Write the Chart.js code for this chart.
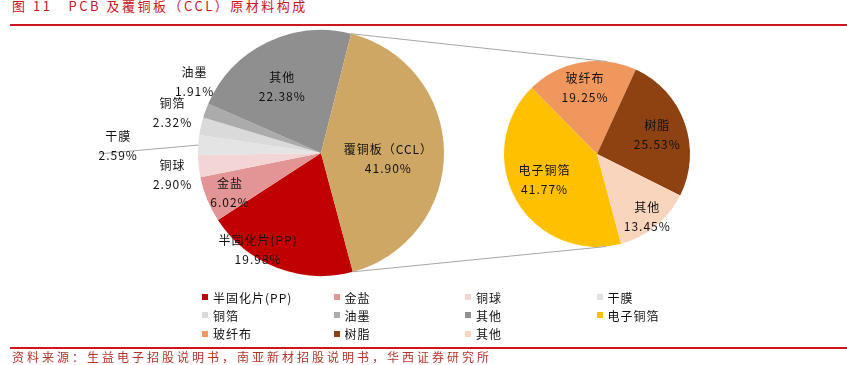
<!DOCTYPE html>
<html><head><meta charset="utf-8">
<script src="https://cdn.jsdelivr.net/npm/chart.js@4.4.0/dist/chart.umd.min.js"></script>
<style>
html,body{margin:0;padding:0;background:#fff;width:847px;height:365px;overflow:hidden;font-family:"Noto Sans CJK SC",sans-serif;}
#title{position:absolute;left:12px;top:-4px;font-size:13px;line-height:20px;color:#C8161D;white-space:pre;letter-spacing:2.5px;}
#topline{position:absolute;left:10px;right:0;top:24px;height:2px;background:#D0161D;}
#botline{position:absolute;left:10px;right:0;top:347px;height:2px;background:#D0161D;}
#source{position:absolute;left:12px;top:349px;font-size:12px;line-height:16px;color:#B5352B;letter-spacing:3px;white-space:pre;}
canvas{position:absolute;left:0;top:0;}
#legend{position:absolute;left:202px;top:288px;display:grid;grid-template-columns:repeat(4,131.5px);grid-auto-rows:18.3px;}
.li{display:flex;align-items:center;font-size:12px;color:#111;letter-spacing:1px;white-space:nowrap;}
.li i{display:inline-block;width:6px;height:6px;margin-right:5px;}
</style></head>
<body>
<div id="title">图 11   PCB 及覆铜板（CCL）原材料构成</div>
<div id="topline"></div>
<canvas id="left" width="847" height="365"></canvas>
<canvas id="right" width="847" height="365"></canvas>
<div id="legend"></div>
<div id="botline"></div>
<div id="source">资料来源：生益电子招股说明书，南亚新材招股说明书，华西证券研究所</div>
<script>
// ---- data ----
const leftCategories = ['半固化片(PP)', '金盐', '铜球', '干膜', '铜箔', '油墨', '其他', '覆铜板（CCL）'];
const leftValues = [19.98, 6.02, 2.90, 2.59, 2.32, 1.91, 22.38, 41.90];
const rightCategories = ['电子铜箔', '玻纤布', '树脂', '其他'];
const rightValues = [41.77, 19.25, 25.53, 13.45];

// ---- styles ----
const leftColors = ['#C00000', '#E39494', '#F3D5D5', '#E4E4E4', '#DADADA', '#ABABAB', '#8F8F8F', '#CEA764'];
const rightColors = ['#FFC000', '#F0975E', '#8E4212', '#F9D5BE'];
// label placement: [angle offset from slice middle (deg), radius factor, leader line]
const leftLabelPlace = [[12, 0.94, 0], [-1.7, 0.81, 0], [-2.3, 1.22, 0], [-1.7, 1.65, 1], [2.5, 1.25, 0], [9.3, 1.18, 0], [-4.4, 0.62, 0], [5.5, 0.55, 0]];
const rightLabelPlace = [[3.2, 0.63, 0], [-0.3, 0.72, 0], [1.7, 0.68, 0], [0.8, 0.87, 0]];
const legendCount = 7; // left items shown in legend (覆铜板 is expanded on the right)

Chart.defaults.font.family = '"Noto Sans CJK SC", sans-serif';

function labelPlugin(cats, vals, place) {
  return {
    id: 'sliceLabels',
    afterDatasetsDraw(chart) {
      const ctx = chart.ctx;
      const meta = chart.getDatasetMeta(0);
      ctx.save();
      ctx.font = '12px "Noto Sans CJK SC", sans-serif';
      ctx.textAlign = 'center';
      ctx.textBaseline = 'middle';
      meta.data.forEach((arc, i) => {
        const p = arc.getProps(['x', 'y', 'startAngle', 'endAngle', 'outerRadius'], true);
        const mid = (p.startAngle + p.endAngle) / 2;
        const a = mid + place[i][0] * Math.PI / 180;
        const r = p.outerRadius * place[i][1];
        const lx = p.x + Math.cos(a) * r;
        const ly = p.y + Math.sin(a) * r;
        const pct = vals[i].toFixed(2) + '%';
        if (place[i][2]) {
          ctx.letterSpacing = '0px';
          const w = Math.min(ctx.measureText(pct).width + pct.length, 44);
          ctx.strokeStyle = '#A6A6A6';
          ctx.lineWidth = 1;
          ctx.beginPath();
          ctx.moveTo(lx - w / 2, ly + 8);
          ctx.lineTo(p.x + Math.cos(mid) * p.outerRadius, p.y + Math.sin(mid) * p.outerRadius);
          ctx.stroke();
        }
        ctx.letterSpacing = '1px';
        ctx.fillStyle = '#111';
        ctx.fillText(cats[i], lx, ly - 9.5);
        ctx.fillText(pct, lx, ly + 9.5);
      });
      ctx.restore();
    }
  };
}

const common = {
  responsive: false,
  animation: false,
  devicePixelRatio: 1,
  events: [],
  plugins: { legend: { display: false }, tooltip: { enabled: false } }
};

const leftChart = new Chart(document.getElementById('left'), {
  type: 'pie',
  data: { labels: leftCategories, datasets: [{ data: leftValues, backgroundColor: leftColors, borderWidth: 0 }] },
  options: Object.assign({}, common, {
    rotation: 165,
    radius: 123,
    layout: { padding: { left: 0, right: 205, top: 0, bottom: 59 } }
  }),
  plugins: [labelPlugin(leftCategories, leftValues, leftLabelPlace)]
});

const connectorPlugin = {
  id: 'connectors',
  afterDatasetsDraw(chart) {
    const lm = leftChart.getDatasetMeta(0);
    const src = lm.data[leftValues.length - 1].getProps(['x', 'y', 'startAngle', 'endAngle', 'outerRadius'], true);
    const dst = chart.getDatasetMeta(0).data[0].getProps(['x', 'y', 'outerRadius'], true);
    const ctx = chart.ctx;
    ctx.save();
    ctx.strokeStyle = '#A6A6A6';
    ctx.lineWidth = 1;
    [[src.startAngle, 1], [src.endAngle, -1]].forEach(([ang, sgn]) => {
      const px = src.x + Math.cos(ang) * src.outerRadius;
      const py = src.y + Math.sin(ang) * src.outerRadius;
      const dx = px - dst.x, dy = py - dst.y;
      const d = Math.hypot(dx, dy);
      const th = Math.atan2(dy, dx) + sgn * Math.acos(dst.outerRadius / d);
      ctx.beginPath();
      ctx.moveTo(px, py);
      ctx.lineTo(dst.x + Math.cos(th) * dst.outerRadius, dst.y + Math.sin(th) * dst.outerRadius);
      ctx.stroke();
    });
    ctx.restore();
  }
};

const rightChart = new Chart(document.getElementById('right'), {
  type: 'pie',
  data: { labels: rightCategories, datasets: [{ data: rightValues, backgroundColor: rightColors, borderWidth: 0 }] },
  options: Object.assign({}, common, {
    rotation: 165,
    radius: 93,
    layout: { padding: { left: 347, right: 0, top: 0, bottom: 57 } }
  }),
  plugins: [labelPlugin(rightCategories, rightValues, rightLabelPlace), connectorPlugin]
});

// ---- legend ----
const legend = document.getElementById('legend');
const items = [];
for (let i = 0; i < legendCount; i++) items.push([leftCategories[i], leftColors[i]]);
rightCategories.forEach((c, i) => items.push([c, rightColors[i]]));
items.forEach(([name, color]) => {
  const d = document.createElement('div');
  d.className = 'li';
  const m = document.createElement('i');
  m.style.background = color;
  d.appendChild(m);
  d.appendChild(document.createTextNode(name));
  legend.appendChild(d);
});
</script>
</body></html>
